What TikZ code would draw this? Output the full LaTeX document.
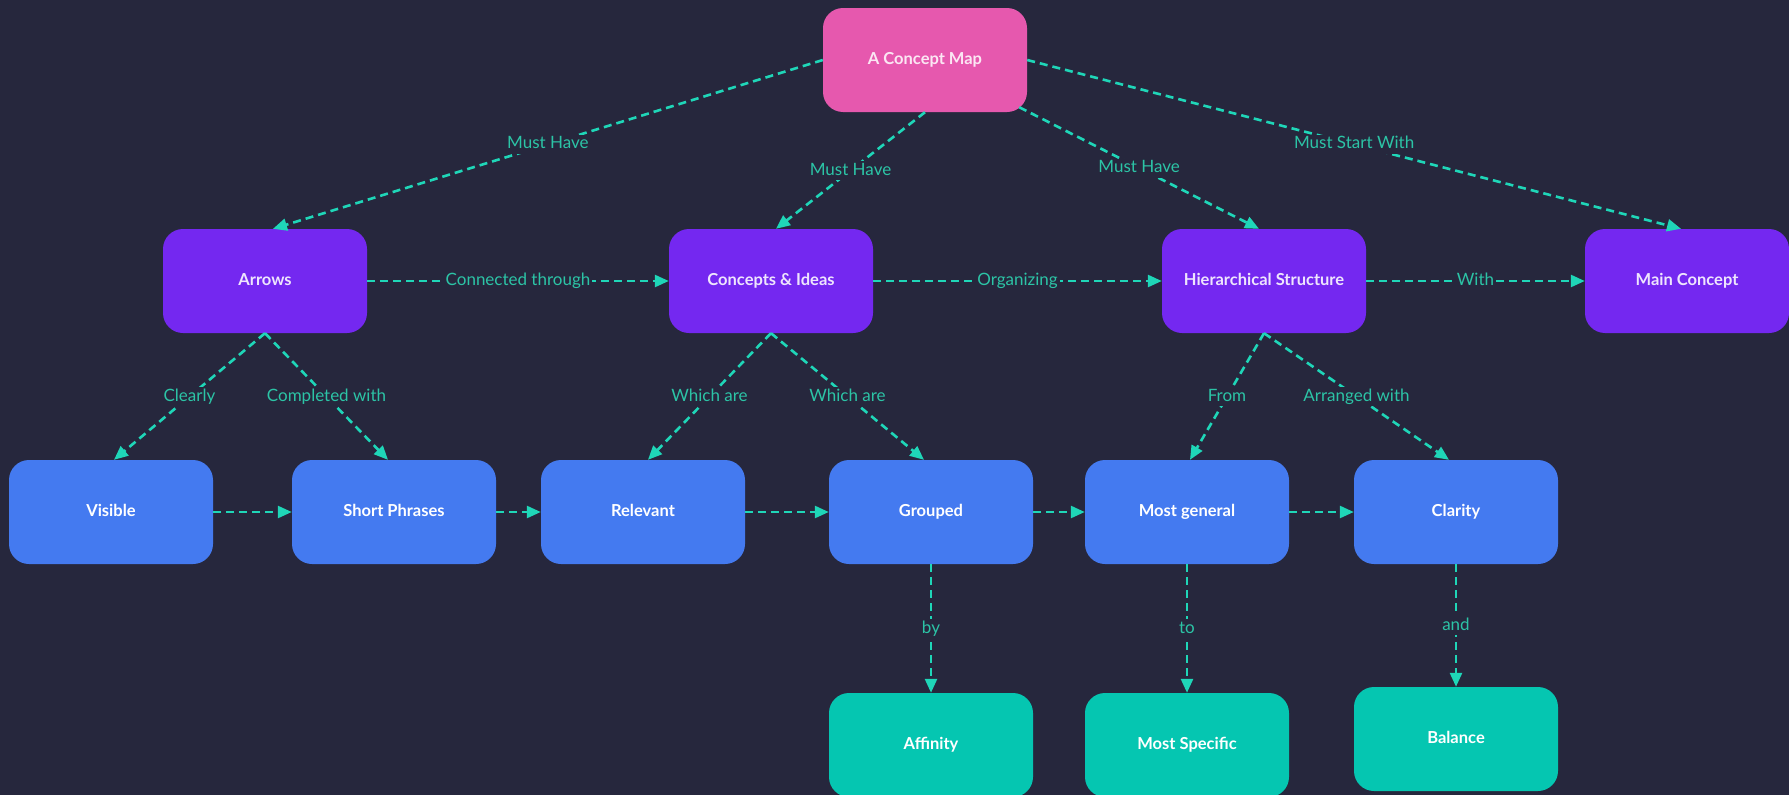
\documentclass[tikz,border=0pt]{standalone}
\usepackage{fontspec}
\setmainfont{Lato}
\usetikzlibrary{arrows.meta}
\definecolor{bg}{HTML}{26273D}
\definecolor{pinkc}{HTML}{E658AE}
\definecolor{purplec}{HTML}{7428F0}
\definecolor{bluec}{HTML}{447AF0}
\definecolor{tealc}{HTML}{05C6B1}
\definecolor{linkc}{HTML}{1FD6B8}
\definecolor{lblc}{HTML}{2CC4A6}
\tikzset{
  box/.style={rounded corners=20pt, minimum width=204pt, minimum height=104pt,
    inner sep=0pt, text=white, text height=12pt, text depth=3pt,
    font=\fontsize{16.5}{18}\selectfont\bfseries},
  rootbox/.style={box, fill=pinkc, text=white!85!pinkc},
  mainbox/.style={box, fill=purplec, text=white!88!purplec},
  subbox/.style={box, fill=bluec},
  leafbox/.style={box, fill=tealc},
  link/.style={draw=linkc, line width=2.6pt, dash pattern=on 8pt off 5pt,
    -{Triangle[length=14pt,width=12pt,fill=linkc]}},
  lbl/.style={fill=bg, text=lblc, inner sep=2pt, text height=12pt, text depth=3pt,
    font=\fontsize{17}{18}\selectfont}
}
\begin{document}
\begin{tikzpicture}[x=1pt,y=-1pt]
\fill[bg] (0,0) rectangle (1789,795);
\useasboundingbox (0,0) rectangle (1789,795);

% root
\node[rootbox] (root) at (925,60) {A Concept Map};

% second level
\node[mainbox] (arrows)   at (265,281)  {Arrows};
\node[mainbox] (concepts) at (771,281)  {Concepts \& Ideas};
\node[mainbox] (hier)     at (1264,281) {Hierarchical Structure};
\node[mainbox] (mainc)    at (1687,281) {Main Concept};

% third level
\node[subbox] (visible)  at (111,512)  {Visible};
\node[subbox] (short)    at (394,512)  {Short Phrases};
\node[subbox] (relevant) at (643,512)  {Relevant};
\node[subbox] (grouped)  at (931,512)  {Grouped};
\node[subbox] (general)  at (1187,512) {Most general};
\node[subbox] (clarity)  at (1456,512) {Clarity};

% leaves
\node[leafbox] (affinity) at (931,745)  {Affinity};
\node[leafbox] (specific) at (1187,745) {Most Specific};
\node[leafbox] (balance)  at (1456,739) {Balance};

% root links
\draw[link] (root.west) -- node[lbl] {Must Have} ([xshift=8pt]arrows.north);
\draw[link] (root.south) -- node[lbl] {Must Have} ([xshift=5pt]concepts.north);
\draw[link] ([xshift=-8pt,yshift=5pt]root.south east) -- node[lbl] {Must Have} ([xshift=-5pt]hier.north);
\draw[link] (root.east) -- node[lbl] {Must Start With} ([xshift=-6pt]mainc.north);

% second row links
\draw[link] (arrows) -- node[lbl] {Connected through} (concepts);
\draw[link] (concepts) -- node[lbl] {Organizing} (hier);
\draw[link] (hier) -- node[lbl] {With} (mainc);

% down to third row
\draw[link] (arrows.south) -- node[lbl] {Clearly} ([xshift=3pt]visible.north);
\draw[link] (arrows.south) -- node[lbl] {Completed with} ([xshift=-6pt]short.north);
\draw[link] (concepts.south) -- node[lbl] {Which are} ([xshift=5pt]relevant.north);
\draw[link] (concepts.south) -- node[lbl] {Which are} ([xshift=-7pt]grouped.north);
\draw[link] (hier.south) -- node[lbl] {From} ([xshift=3pt]general.north);
\draw[link] (hier.south) -- node[lbl] {Arranged with} ([xshift=-7pt]clarity.north);

% third row chain
\draw[link] (visible) -- (short);
\draw[link] (short) -- (relevant);
\draw[link] (relevant) -- (grouped);
\draw[link] (grouped) -- (general);
\draw[link] (general) -- (clarity);

% down to leaves
\draw[link] (grouped) -- node[lbl] {by} (affinity);
\draw[link] (general) -- node[lbl] {to} (specific);
\draw[link] (clarity) -- node[lbl] {and} (balance);
\end{tikzpicture}
\end{document}
